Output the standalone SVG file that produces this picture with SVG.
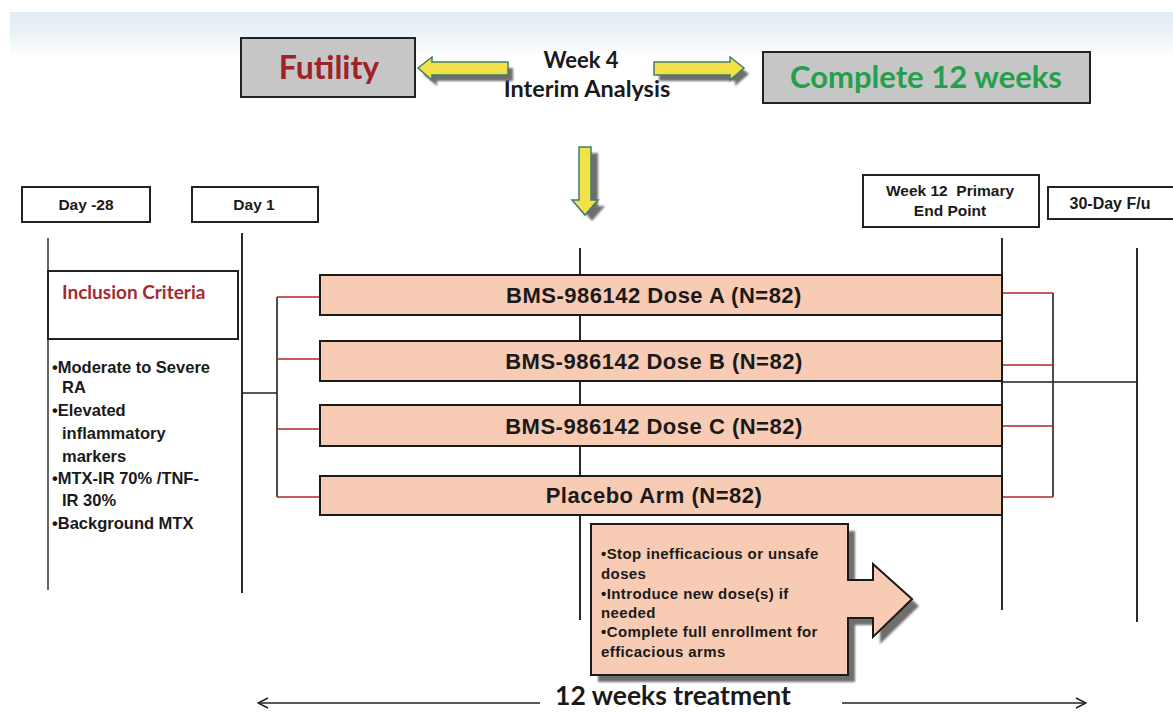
<svg xmlns="http://www.w3.org/2000/svg" width="1173" height="713" viewBox="0 0 1173 713">
<style>
.box{fill:#ffffff;stroke:#222;stroke-width:2}
.gbox{fill:#c6c6c6;stroke:#222;stroke-width:2}
.arm{fill:#f8cbb4;stroke:#1a1a1a;stroke-width:2}
.vl{stroke:#2a2a2a;stroke-width:2;fill:none}
.vlg{stroke:#666;stroke-width:2;fill:none}
.red{stroke:#b5262b;stroke-width:1.6;fill:none}
.blk{stroke:#222;stroke-width:1.6;fill:none}
.ar{font-family:"Liberation Sans",Arial,sans-serif;font-weight:bold;fill:#1a1a1a}
.cal{font-family:Lato,"Open Sans",sans-serif;font-weight:bold}
.yarrow{fill:#f2e24a;stroke:#3f7d6e;stroke-width:1.5}
.shadow{fill:#6e6e6e}
</style>
<defs>
<linearGradient id="band" x1="0" y1="0" x2="0" y2="1">
<stop offset="0" stop-color="#e0ecf4"/>
<stop offset="0.55" stop-color="#edf4f8"/>
<stop offset="1" stop-color="#ffffff"/>
</linearGradient>
<filter id="soft" x="-10%" y="-10%" width="120%" height="120%"><feGaussianBlur stdDeviation="1.3"/></filter>
<marker id="open" viewBox="0 0 12 12" refX="11" refY="6" markerWidth="12" markerHeight="12" markerUnits="userSpaceOnUse" orient="auto">
<path d="M1,1 L11,6 L1,11" fill="none" stroke="#222" stroke-width="1.5"/>
</marker>
</defs>

<rect x="10" y="12" width="1163" height="45" fill="url(#band)"/>

<g id="futility">
<rect class="gbox" x="241" y="38" width="174" height="59"/>
<text class="cal" x="329" y="79" font-size="32" fill="#9e2328" text-anchor="middle">Futility</text>
</g>

<g id="interim">
<text class="cal" x="581" y="68" font-size="22" fill="#1a1a1a" text-anchor="middle">Week 4</text>
<text class="cal" x="587" y="97" font-size="23.5" fill="#1a1a1a" text-anchor="middle">Interim Analysis</text>
</g>

<g id="complete">
<rect class="gbox" x="763" y="52" width="327" height="51"/>
<text class="cal" x="926" y="88" font-size="31" fill="#22a04b" text-anchor="middle">Complete 12 weeks</text>
</g>

<g id="day-28">
<rect class="box" x="22" y="187" width="128" height="35"/>
<text class="ar" x="86" y="210" font-size="15.5" text-anchor="middle">Day -28</text>
</g>
<g id="day1">
<rect class="box" x="192" y="187" width="126" height="35"/>
<text class="ar" x="254" y="210" font-size="15.5" text-anchor="middle">Day 1</text>
</g>
<g id="week12">
<rect class="box" x="863" y="175" width="176" height="52"/>
<text class="ar" x="950" y="196" font-size="15.5" text-anchor="middle" xml:space="preserve">Week 12  Primary</text>
<text class="ar" x="950" y="216" font-size="15.5" text-anchor="middle">End Point</text>
</g>
<g id="fu30">
<rect class="box" x="1048" y="187" width="135" height="32"/>
<text class="ar" x="1110" y="209" font-size="16" text-anchor="middle">30-Day F/u</text>
</g>

<g id="connectors">
<line class="vlg" x1="48" y1="238" x2="48" y2="590"/>
<line class="vl" x1="242" y1="233" x2="242" y2="593"/>
<line class="vl" x1="580" y1="248" x2="580" y2="620"/>
<line class="vl" x1="1002" y1="238" x2="1002" y2="610"/>
<line class="vl" x1="1137" y1="248" x2="1137" y2="622"/>
<line class="blk" x1="242" y1="393" x2="277" y2="393"/>
<line class="blk" x1="277" y1="297" x2="277" y2="497"/>
<line class="red" x1="277" y1="297" x2="320" y2="297"/>
<line class="red" x1="277" y1="359" x2="320" y2="359"/>
<line class="red" x1="277" y1="429" x2="320" y2="429"/>
<line class="red" x1="277" y1="497" x2="320" y2="497"/>
<line class="blk" x1="1053" y1="293" x2="1053" y2="497"/>
<line class="red" x1="1002" y1="293" x2="1053" y2="293"/>
<line class="red" x1="1002" y1="365" x2="1053" y2="365"/>
<line class="red" x1="1002" y1="426" x2="1053" y2="426"/>
<line class="red" x1="1002" y1="497" x2="1053" y2="497"/>
<line class="blk" x1="1002" y1="382" x2="1137" y2="382"/>
<line class="blk" x1="540" y1="703" x2="258" y2="703" marker-end="url(#open)"/>
<line class="blk" x1="842" y1="703" x2="1086" y2="703" marker-end="url(#open)"/>
<path class="shadow" filter="url(#soft)" d="M423,74 L437,63 V68 H513 V81 H437 V86 Z"/>
<path class="yarrow" d="M418,68 L432,57 V62 H508 V75 H432 V80 Z"/>
<path class="shadow" filter="url(#soft)" d="M749,74 L735,63 V68 H659 V81 H735 V86 Z"/>
<path class="yarrow" d="M744,68 L730,57 V62 H654 V75 H730 V80 Z"/>
<path class="shadow" filter="url(#soft)" d="M586,153 H598 V206 H605 L592,221 L579,206 H586 Z"/>
<path class="yarrow" d="M579,147 H591 V200 H598 L585,215 L572,200 H579 Z"/>
</g>

<g id="inclusion">
<rect class="box" x="48" y="271" width="190" height="68"/>
<text class="cal" x="62" y="299" font-size="19" fill="#a52a2e">Inclusion Criteria</text>
</g>
<g id="criteria">
<text class="ar" font-size="16.5">
<tspan x="52" y="373">•Moderate to Severe</tspan>
<tspan x="62" y="393">RA</tspan>
<tspan x="52" y="416">•Elevated</tspan>
<tspan x="62" y="439">inflammatory</tspan>
<tspan x="62" y="462">markers</tspan>
<tspan x="52" y="484">•MTX-IR 70% /TNF-</tspan>
<tspan x="62" y="506">IR 30%</tspan>
<tspan x="52" y="529">•Background MTX</tspan>
</text>
</g>

<g id="armA">
<rect class="arm" x="320" y="275" width="682" height="40"/>
<text class="ar" x="654" y="303" font-size="22" letter-spacing="0.5" text-anchor="middle">BMS-986142 Dose A (N=82)</text>
</g>
<g id="armB">
<rect class="arm" x="320" y="341" width="682" height="40"/>
<text class="ar" x="654" y="369" font-size="22" letter-spacing="0.5" text-anchor="middle">BMS-986142 Dose B (N=82)</text>
</g>
<g id="armC">
<rect class="arm" x="320" y="405" width="682" height="41"/>
<text class="ar" x="654" y="434" font-size="22" letter-spacing="0.5" text-anchor="middle">BMS-986142 Dose C (N=82)</text>
</g>
<g id="placebo">
<rect class="arm" x="320" y="476" width="682" height="39"/>
<text class="ar" x="654" y="503" font-size="22" letter-spacing="0.5" text-anchor="middle">Placebo Arm (N=82)</text>
</g>

<g id="callout">
<path class="shadow" filter="url(#soft)" d="M598,531 H855 V587 H880 V571 L919,606 L880,644 V625 H855 V682 H598 Z"/>
<path class="arm" d="M591,524 H848 V580 H873 V564 L912,599 L873,637 V618 H848 V675 H591 Z"/>
<text class="ar" font-size="15" letter-spacing="0.4">
<tspan x="601" y="559">•Stop inefficacious or unsafe</tspan>
<tspan x="601" y="579">doses</tspan>
<tspan x="601" y="599">•Introduce new dose(s) if</tspan>
<tspan x="601" y="618">needed</tspan>
<tspan x="601" y="637">•Complete full enrollment for</tspan>
<tspan x="601" y="657">efficacious arms</tspan>
</text>
</g>

<g id="treatment">
<text class="cal" x="673" y="705" font-size="26.5" fill="#1a1a1a" text-anchor="middle">12 weeks treatment</text>
</g>
</svg>
